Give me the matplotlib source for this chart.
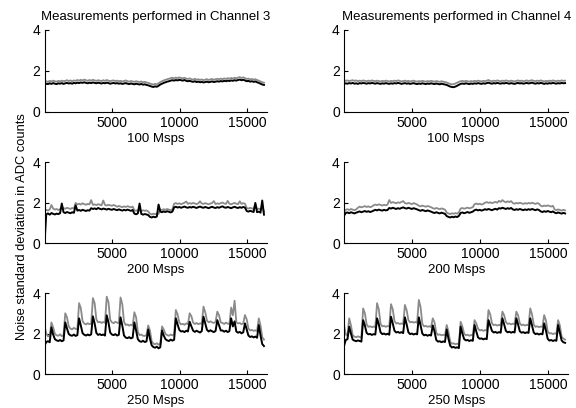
import matplotlib
matplotlib.use('Agg')
import matplotlib.pyplot as plt
import numpy as np

plt.rcParams['font.family'] = ['Liberation Sans', 'DejaVu Sans']

# noise std per block of 128 samples (16384 samples per record)
block = 128
record_len = 16384

# ---- 100 Msps ----
ch3_100_black = [
    1.34, 1.38, 1.36, 1.40, 1.37, 1.41, 1.38, 1.36, 1.40, 1.38,
    1.41, 1.37, 1.40, 1.42, 1.39, 1.41, 1.38, 1.42, 1.40, 1.43,
    1.41, 1.44, 1.42, 1.45, 1.42, 1.40, 1.43, 1.41, 1.44, 1.42,
    1.40, 1.43, 1.41, 1.39, 1.42, 1.40, 1.43, 1.41, 1.38, 1.40,
    1.42, 1.39, 1.41, 1.38, 1.40, 1.37, 1.39, 1.41, 1.38, 1.36,
    1.39, 1.37, 1.35, 1.38, 1.36, 1.34, 1.37, 1.33, 1.35, 1.32,
    1.30, 1.27, 1.24, 1.22, 1.25, 1.23, 1.28, 1.34, 1.38, 1.42,
    1.45, 1.48, 1.50, 1.53, 1.55, 1.53, 1.56, 1.54, 1.57, 1.55,
    1.53, 1.56, 1.52, 1.50, 1.52, 1.49, 1.47, 1.50, 1.46, 1.48,
    1.45, 1.47, 1.44, 1.46, 1.48, 1.45, 1.47, 1.49, 1.46, 1.48,
    1.50, 1.48, 1.51, 1.49, 1.52, 1.50, 1.53, 1.51, 1.54, 1.52,
    1.55, 1.53, 1.56, 1.58, 1.55, 1.57, 1.54, 1.50, 1.52, 1.48,
    1.50, 1.47, 1.49, 1.45, 1.42, 1.38, 1.34, 1.32]
ch3_100_gray = [
    1.46, 1.50, 1.47, 1.52, 1.49, 1.53, 1.50, 1.48, 1.52, 1.49,
    1.53, 1.50, 1.52, 1.55, 1.51, 1.54, 1.50, 1.54, 1.52, 1.56,
    1.53, 1.57, 1.54, 1.58, 1.55, 1.52, 1.56, 1.53, 1.57, 1.54,
    1.52, 1.55, 1.53, 1.51, 1.55, 1.52, 1.56, 1.53, 1.50, 1.53,
    1.54, 1.51, 1.53, 1.50, 1.52, 1.49, 1.51, 1.54, 1.50, 1.48,
    1.51, 1.49, 1.47, 1.50, 1.48, 1.46, 1.49, 1.45, 1.47, 1.44,
    1.42, 1.39, 1.36, 1.34, 1.37, 1.35, 1.40, 1.46, 1.50, 1.54,
    1.57, 1.60, 1.62, 1.65, 1.67, 1.64, 1.68, 1.65, 1.69, 1.66,
    1.64, 1.67, 1.63, 1.61, 1.64, 1.60, 1.58, 1.62, 1.57, 1.60,
    1.56, 1.59, 1.55, 1.58, 1.60, 1.56, 1.59, 1.61, 1.57, 1.60,
    1.62, 1.59, 1.63, 1.60, 1.64, 1.61, 1.65, 1.62, 1.66, 1.63,
    1.67, 1.64, 1.68, 1.70, 1.66, 1.69, 1.65, 1.61, 1.63, 1.59,
    1.61, 1.58, 1.60, 1.56, 1.53, 1.49, 1.45, 1.43]
ch4_100_black = [
    1.36, 1.40, 1.38, 1.41, 1.39, 1.42, 1.38, 1.40, 1.37, 1.41,
    1.39, 1.42, 1.40, 1.38, 1.41, 1.39, 1.42, 1.40, 1.38, 1.41,
    1.39, 1.37, 1.40, 1.38, 1.41, 1.39, 1.37, 1.40, 1.38, 1.41,
    1.39, 1.42, 1.40, 1.37, 1.39, 1.41, 1.38, 1.40, 1.37, 1.39,
    1.41, 1.38, 1.36, 1.39, 1.37, 1.40, 1.38, 1.36, 1.39, 1.37,
    1.40, 1.38, 1.36, 1.39, 1.37, 1.35, 1.38, 1.36, 1.34, 1.32,
    1.28, 1.24, 1.22, 1.21, 1.24, 1.28, 1.33, 1.37, 1.39, 1.37,
    1.40, 1.38, 1.36, 1.39, 1.37, 1.40, 1.38, 1.41, 1.39, 1.37,
    1.40, 1.38, 1.41, 1.43, 1.40, 1.38, 1.41, 1.39, 1.42, 1.40,
    1.38, 1.41, 1.39, 1.42, 1.40, 1.38, 1.41, 1.39, 1.37, 1.40,
    1.42, 1.39, 1.41, 1.38, 1.40, 1.42, 1.39, 1.41, 1.43, 1.40,
    1.38, 1.41, 1.39, 1.42, 1.40, 1.37, 1.40, 1.38, 1.41, 1.39,
    1.42, 1.40, 1.38, 1.41, 1.39, 1.42, 1.40, 1.41]
ch4_100_gray = [
    1.55, 1.52, 1.54, 1.51, 1.53, 1.55, 1.52, 1.54, 1.50, 1.53,
    1.51, 1.54, 1.52, 1.50, 1.53, 1.51, 1.54, 1.52, 1.50, 1.53,
    1.51, 1.49, 1.52, 1.50, 1.53, 1.51, 1.49, 1.52, 1.50, 1.53,
    1.51, 1.54, 1.52, 1.49, 1.51, 1.53, 1.50, 1.52, 1.49, 1.51,
    1.53, 1.50, 1.48, 1.51, 1.49, 1.52, 1.50, 1.48, 1.51, 1.49,
    1.52, 1.50, 1.48, 1.51, 1.49, 1.47, 1.50, 1.48, 1.46, 1.44,
    1.40, 1.37, 1.35, 1.36, 1.39, 1.43, 1.47, 1.50, 1.52, 1.49,
    1.52, 1.50, 1.48, 1.51, 1.49, 1.52, 1.50, 1.53, 1.51, 1.49,
    1.52, 1.50, 1.53, 1.56, 1.52, 1.50, 1.53, 1.51, 1.54, 1.52,
    1.50, 1.53, 1.51, 1.54, 1.52, 1.50, 1.53, 1.51, 1.49, 1.52,
    1.54, 1.51, 1.53, 1.50, 1.52, 1.54, 1.51, 1.53, 1.55, 1.52,
    1.50, 1.53, 1.51, 1.54, 1.52, 1.49, 1.52, 1.50, 1.53, 1.51,
    1.54, 1.52, 1.50, 1.53, 1.51, 1.54, 1.52, 1.53]

# ---- 200 Msps ----
ch3_200_black = [
    0.00, 1.42, 1.46, 1.40, 1.48, 1.44, 1.41, 1.45, 1.43, 1.47,
    1.95, 1.52, 1.48, 1.53, 1.50, 1.47, 1.52, 1.49, 1.86, 1.60,
    1.63, 1.59, 1.64, 1.61, 1.58, 1.62, 1.60, 1.72, 1.68, 1.71,
    1.67, 1.73, 1.69, 1.66, 1.70, 1.68, 1.65, 1.69, 1.66, 1.64,
    1.68, 1.65, 1.62, 1.66, 1.63, 1.60, 1.64, 1.61, 1.65, 1.62,
    1.59, 1.63, 1.45, 1.42, 1.46, 1.95, 1.44, 1.40, 1.43, 1.41,
    1.38, 1.29, 1.26, 1.30, 1.27, 1.31, 1.90, 1.55, 1.52, 1.56,
    1.53, 1.57, 1.54, 1.51, 1.55, 1.76, 1.79, 1.75, 1.78, 1.74,
    1.77, 1.80, 1.76, 1.74, 1.78, 1.75, 1.79, 1.76, 1.73, 1.77,
    1.80, 1.76, 1.74, 1.78, 1.75, 1.72, 1.76, 1.79, 1.75, 1.73,
    1.77, 1.74, 1.78, 1.81, 1.76, 1.74, 1.78, 1.75, 1.72, 1.76,
    1.79, 1.75, 1.73, 1.77, 1.74, 1.78, 1.75, 1.58, 1.55, 1.59,
    1.56, 1.53, 1.98, 1.52, 1.55, 1.50, 2.10, 1.40]
ch3_200_gray = [
    1.55, 1.64, 1.60, 1.66, 1.88, 1.70, 1.65, 1.68, 1.63, 1.67,
    1.78, 1.72, 1.69, 1.74, 1.71, 1.68, 1.73, 1.70, 1.98, 1.90,
    1.94, 1.90, 1.96, 1.92, 1.89, 1.93, 1.91, 2.12, 1.88, 1.91,
    1.87, 1.92, 1.89, 1.86, 2.10, 1.88, 1.85, 1.89, 1.86, 1.84,
    1.88, 1.84, 1.79, 1.83, 1.80, 1.77, 1.81, 1.78, 1.82, 1.79,
    1.76, 1.80, 1.62, 1.59, 1.63, 1.60, 1.58, 1.62, 1.59, 1.61,
    1.56, 1.45, 1.41, 1.45, 1.42, 1.46, 1.44, 1.66, 1.63, 1.67,
    1.64, 1.68, 1.65, 1.62, 1.66, 1.94, 1.97, 1.93, 1.96, 1.92,
    1.95, 1.99, 2.05, 1.93, 1.97, 1.94, 1.98, 1.95, 1.92, 1.96,
    2.06, 1.95, 1.93, 1.97, 1.94, 1.91, 1.95, 1.98, 2.07, 1.92,
    1.96, 1.93, 1.97, 2.00, 1.95, 1.93, 2.08, 1.94, 1.91, 1.95,
    1.98, 1.94, 1.92, 2.06, 1.93, 1.97, 1.94, 1.73, 1.70, 1.74,
    1.71, 1.68, 1.92, 1.67, 1.70, 1.65, 1.80, 1.55]
ch4_200_black = [
    1.35, 1.48, 1.51, 1.47, 1.52, 1.49, 1.46, 1.50, 1.53, 1.56,
    1.52, 1.55, 1.58, 1.54, 1.57, 1.53, 1.56, 1.60, 1.64, 1.61,
    1.65, 1.62, 1.60, 1.64, 1.61, 1.63, 1.73, 1.70, 1.74, 1.71,
    1.68, 1.72, 1.69, 1.73, 1.76, 1.72, 1.70, 1.74, 1.71, 1.68,
    1.72, 1.69, 1.66, 1.62, 1.59, 1.63, 1.60, 1.57, 1.61, 1.58,
    1.55, 1.51, 1.48, 1.52, 1.49, 1.46, 1.50, 1.47, 1.44, 1.33,
    1.29, 1.26, 1.30, 1.27, 1.31, 1.28, 1.34, 1.48, 1.51, 1.47,
    1.50, 1.53, 1.49, 1.52, 1.55, 1.62, 1.65, 1.61, 1.64, 1.60,
    1.63, 1.67, 1.64, 1.68, 1.65, 1.62, 1.66, 1.69, 1.65, 1.72,
    1.70, 1.74, 1.71, 1.68, 1.72, 1.69, 1.73, 1.66, 1.63, 1.67,
    1.64, 1.68, 1.65, 1.62, 1.66, 1.63, 1.67, 1.64, 1.68, 1.65,
    1.62, 1.66, 1.63, 1.56, 1.53, 1.57, 1.54, 1.58, 1.55, 1.52,
    1.56, 1.50, 1.47, 1.51, 1.48, 1.45, 1.49, 1.46]
ch4_200_gray = [
    1.52, 1.64, 1.67, 1.63, 1.68, 1.65, 1.62, 1.66, 1.74, 1.80,
    1.76, 1.79, 1.82, 1.78, 1.81, 1.77, 1.80, 1.86, 1.90, 1.87,
    1.91, 1.88, 1.85, 1.89, 1.86, 1.90, 2.12, 1.98, 2.02, 1.99,
    1.96, 2.01, 1.98, 2.03, 2.07, 1.97, 1.94, 1.98, 1.95, 1.92,
    1.97, 1.94, 1.90, 1.84, 1.81, 1.85, 1.82, 1.79, 1.83, 1.80,
    1.77, 1.72, 1.69, 1.73, 1.70, 1.67, 1.71, 1.68, 1.65, 1.50,
    1.46, 1.43, 1.47, 1.44, 1.48, 1.45, 1.52, 1.70, 1.73, 1.69,
    1.72, 1.75, 1.71, 1.74, 1.77, 1.92, 1.95, 1.91, 1.94, 1.90,
    1.93, 1.99, 2.02, 1.98, 2.01, 1.97, 2.00, 2.03, 1.99, 2.08,
    2.03, 2.12, 2.05, 2.01, 2.06, 2.02, 2.07, 1.97, 1.94, 1.98,
    1.95, 1.99, 1.96, 1.93, 1.97, 1.94, 1.98, 1.95, 1.99, 1.96,
    1.93, 1.97, 1.94, 1.84, 1.81, 1.85, 1.82, 1.86, 1.83, 1.80,
    1.84, 1.66, 1.62, 1.66, 1.63, 1.60, 1.64, 1.61]

# ---- 250 Msps (one row per 1024-sample frame, spike at frame start) ----
ch3_250_black = [
    1.40, 1.58, 1.62, 1.57,
    2.30, 1.95, 1.72, 1.66, 1.63, 1.68, 1.62, 1.66,
    2.55, 2.25, 1.98, 1.91, 1.89, 1.95, 1.88, 1.92,
    2.75, 2.40, 2.02, 1.94, 1.90, 1.95, 1.91, 1.96,
    2.85, 2.50, 2.03, 1.93, 1.97, 1.92, 1.95, 1.90,
    2.90, 2.55, 2.05, 1.95, 1.92, 1.97, 1.90, 1.94,
    2.80, 2.40, 1.90, 1.80, 1.77, 1.82, 1.76, 1.80,
    2.55, 2.15, 1.72, 1.62, 1.59, 1.64, 1.58, 1.61,
    2.20, 1.75, 1.42, 1.33, 1.30, 1.35, 1.27, 1.32,
    2.15, 1.90, 1.72, 1.66, 1.63, 1.70, 1.65, 1.69,
    2.75, 2.45, 2.18, 2.10, 2.12, 2.07, 2.14, 2.10,
    2.58, 2.35, 2.14, 2.08, 2.14, 2.09, 2.05, 2.12,
    2.83, 2.50, 2.18, 2.10, 2.16, 2.11, 2.07, 2.13,
    2.66, 2.40, 2.15, 2.15, 2.09, 2.14, 2.07, 2.12,
    2.75, 2.35, 2.60, 2.10, 2.04, 2.08, 2.01, 2.06,
    2.50, 2.20, 1.90, 1.83, 1.86, 1.81, 1.85, 1.79,
    2.42, 1.90, 1.48, 1.38]
ch3_250_gray = [
    2.40, 2.00, 1.86, 1.89,
    2.55, 2.30, 1.98, 1.91, 1.89, 1.96, 1.87, 1.92,
    3.00, 2.80, 2.35, 2.24, 2.21, 2.28, 2.23, 2.20,
    3.50, 3.25, 2.62, 2.49, 2.45, 2.51, 2.46, 2.48,
    3.75, 3.50, 2.70, 2.55, 2.58, 2.52, 2.57, 2.53,
    3.82, 3.55, 2.68, 2.55, 2.51, 2.58, 2.54, 2.50,
    3.78, 3.45, 2.58, 2.42, 2.45, 2.39, 2.44, 2.38,
    3.05, 2.80, 2.08, 1.92, 1.95, 1.89, 1.88, 1.92,
    2.40, 2.15, 1.62, 1.50, 1.47, 1.52, 1.45, 1.50,
    2.35, 2.20, 1.98, 1.92, 1.89, 1.95, 1.91, 1.96,
    3.16, 2.95, 2.55, 2.45, 2.48, 2.43, 2.50, 2.46,
    3.00, 2.85, 2.54, 2.47, 2.52, 2.46, 2.50, 2.48,
    3.33, 3.05, 2.64, 2.55, 2.60, 2.55, 2.52, 2.58,
    3.08, 2.90, 2.55, 2.52, 2.47, 2.54, 2.49, 2.46,
    3.28, 2.90, 3.62, 2.55, 2.50, 2.52, 2.46, 2.50,
    2.91, 2.70, 2.25, 2.15, 2.18, 2.13, 2.16, 2.12,
    2.75, 2.40, 1.82, 1.70]
ch4_250_black = [
    1.38, 1.68, 1.72,
    2.34, 2.00, 1.70, 1.65, 1.62, 1.66, 1.63, 1.60,
    2.66, 2.40, 2.03, 1.96, 1.98, 1.93, 1.97, 1.95,
    2.75, 2.45, 2.06, 1.97, 2.00, 1.95, 1.99, 1.94,
    2.83, 2.50, 2.14, 2.05, 2.08, 2.03, 2.07, 2.02,
    2.80, 2.45, 2.06, 1.97, 2.00, 1.95, 1.99, 1.96,
    2.80, 2.40, 2.00, 1.91, 1.94, 1.89, 1.93, 1.90,
    2.40, 2.10, 1.68, 1.60, 1.62, 1.57, 1.61, 1.58,
    2.20, 1.75, 1.40, 1.31, 1.34, 1.29, 1.32, 1.28,
    2.34, 2.00, 1.73, 1.66, 1.68, 1.63, 1.67, 1.64,
    2.42, 2.10, 1.81, 1.74, 1.76, 1.71, 1.75, 1.72,
    2.66, 2.40, 2.13, 2.05, 2.08, 2.03, 2.07, 2.04,
    2.75, 2.45, 2.13, 2.06, 2.09, 2.04, 2.08, 2.05,
    2.75, 2.45, 2.11, 2.04, 2.07, 2.02, 2.06, 2.03,
    2.75, 2.40, 2.05, 1.97, 2.00, 1.95, 1.99, 1.96,
    2.50, 2.15, 1.74, 1.65, 1.68, 1.63, 1.67, 1.64,
    2.42, 2.05, 1.66, 1.57, 1.54]
ch4_250_gray = [
    2.45, 1.95, 1.90,
    2.75, 2.40, 1.92, 1.84, 1.82, 1.86, 1.83, 1.80,
    3.24, 3.00, 2.45, 2.33, 2.36, 2.31, 2.35, 2.30,
    3.50, 3.20, 2.48, 2.35, 2.38, 2.33, 2.37, 2.34,
    3.45, 3.20, 2.62, 2.49, 2.52, 2.47, 2.50, 2.46,
    3.41, 3.15, 2.66, 2.55, 2.58, 2.54, 2.57, 2.53,
    3.66, 3.30, 2.48, 2.35, 2.38, 2.33, 2.36, 2.32,
    2.75, 2.55, 2.04, 1.93, 1.96, 1.91, 1.94, 1.90,
    2.42, 2.10, 1.60, 1.49, 1.52, 1.47, 1.50, 1.46,
    2.58, 2.35, 2.00, 1.91, 1.94, 1.89, 1.93, 1.90,
    2.66, 2.50, 2.24, 2.15, 2.18, 2.13, 2.17, 2.14,
    3.16, 2.95, 2.50, 2.41, 2.44, 2.39, 2.43, 2.40,
    3.08, 2.90, 2.57, 2.47, 2.50, 2.45, 2.49, 2.46,
    3.08, 2.90, 2.50, 2.41, 2.44, 2.39, 2.43, 2.40,
    3.24, 2.95, 2.44, 2.33, 2.36, 2.31, 2.35, 2.32,
    2.91, 2.65, 2.10, 2.00, 2.02, 1.97, 2.01, 1.98,
    2.66, 2.40, 1.85, 1.75, 1.70]

titles = ['Measurements performed in Channel 3', 'Measurements performed in Channel 4']
rates = ['100 Msps', '200 Msps', '250 Msps']
ylabel = 'Noise standard deviation in ADC counts'

panels = [
    [(ch3_100_black, ch3_100_gray), (ch4_100_black, ch4_100_gray)],
    [(ch3_200_black, ch3_200_gray), (ch4_200_black, ch4_200_gray)],
    [(ch3_250_black, ch3_250_gray), (ch4_250_black, ch4_250_gray)],
]

fig = plt.figure(figsize=(5.76, 4.08), dpi=100)

col_left = [0.0773, 0.5972]
col_width = [0.3867, 0.3896]
row_bottom = [0.7255, 0.4044, 0.0833]
row_height = [0.201, 0.1985, 0.1985]

for r in range(3):
    for c in range(2):
        ax = fig.add_axes([col_left[c], row_bottom[r], col_width[c], row_height[r]])
        black, gray = panels[r][c]
        x = np.arange(len(black)) * block
        ax.plot(x, gray, color='#8a8a8a', lw=1.3)
        ax.plot(x, black, color='black', lw=1.4)
        ax.set_xlim(0, 16500)
        ax.set_ylim(0, 4)
        ax.set_xticks([5000, 10000, 15000])
        ax.set_yticks([0, 2, 4])
        ax.spines['top'].set_visible(False)
        ax.spines['right'].set_visible(False)
        for s in ['left', 'bottom']:
            ax.spines[s].set_linewidth(0.8)
        ax.tick_params(direction='in', length=3, width=0.8, labelsize=10, pad=3)
        ax.set_xlabel(rates[r], fontsize=9.5, labelpad=2)
        if r == 0:
            ax.set_title(titles[c], fontsize=9.5, pad=7)

fig.text(0.038, 0.445, ylabel, rotation=90, ha='center', va='center', fontsize=9.3)

fig.savefig('out.png', dpi=100)
